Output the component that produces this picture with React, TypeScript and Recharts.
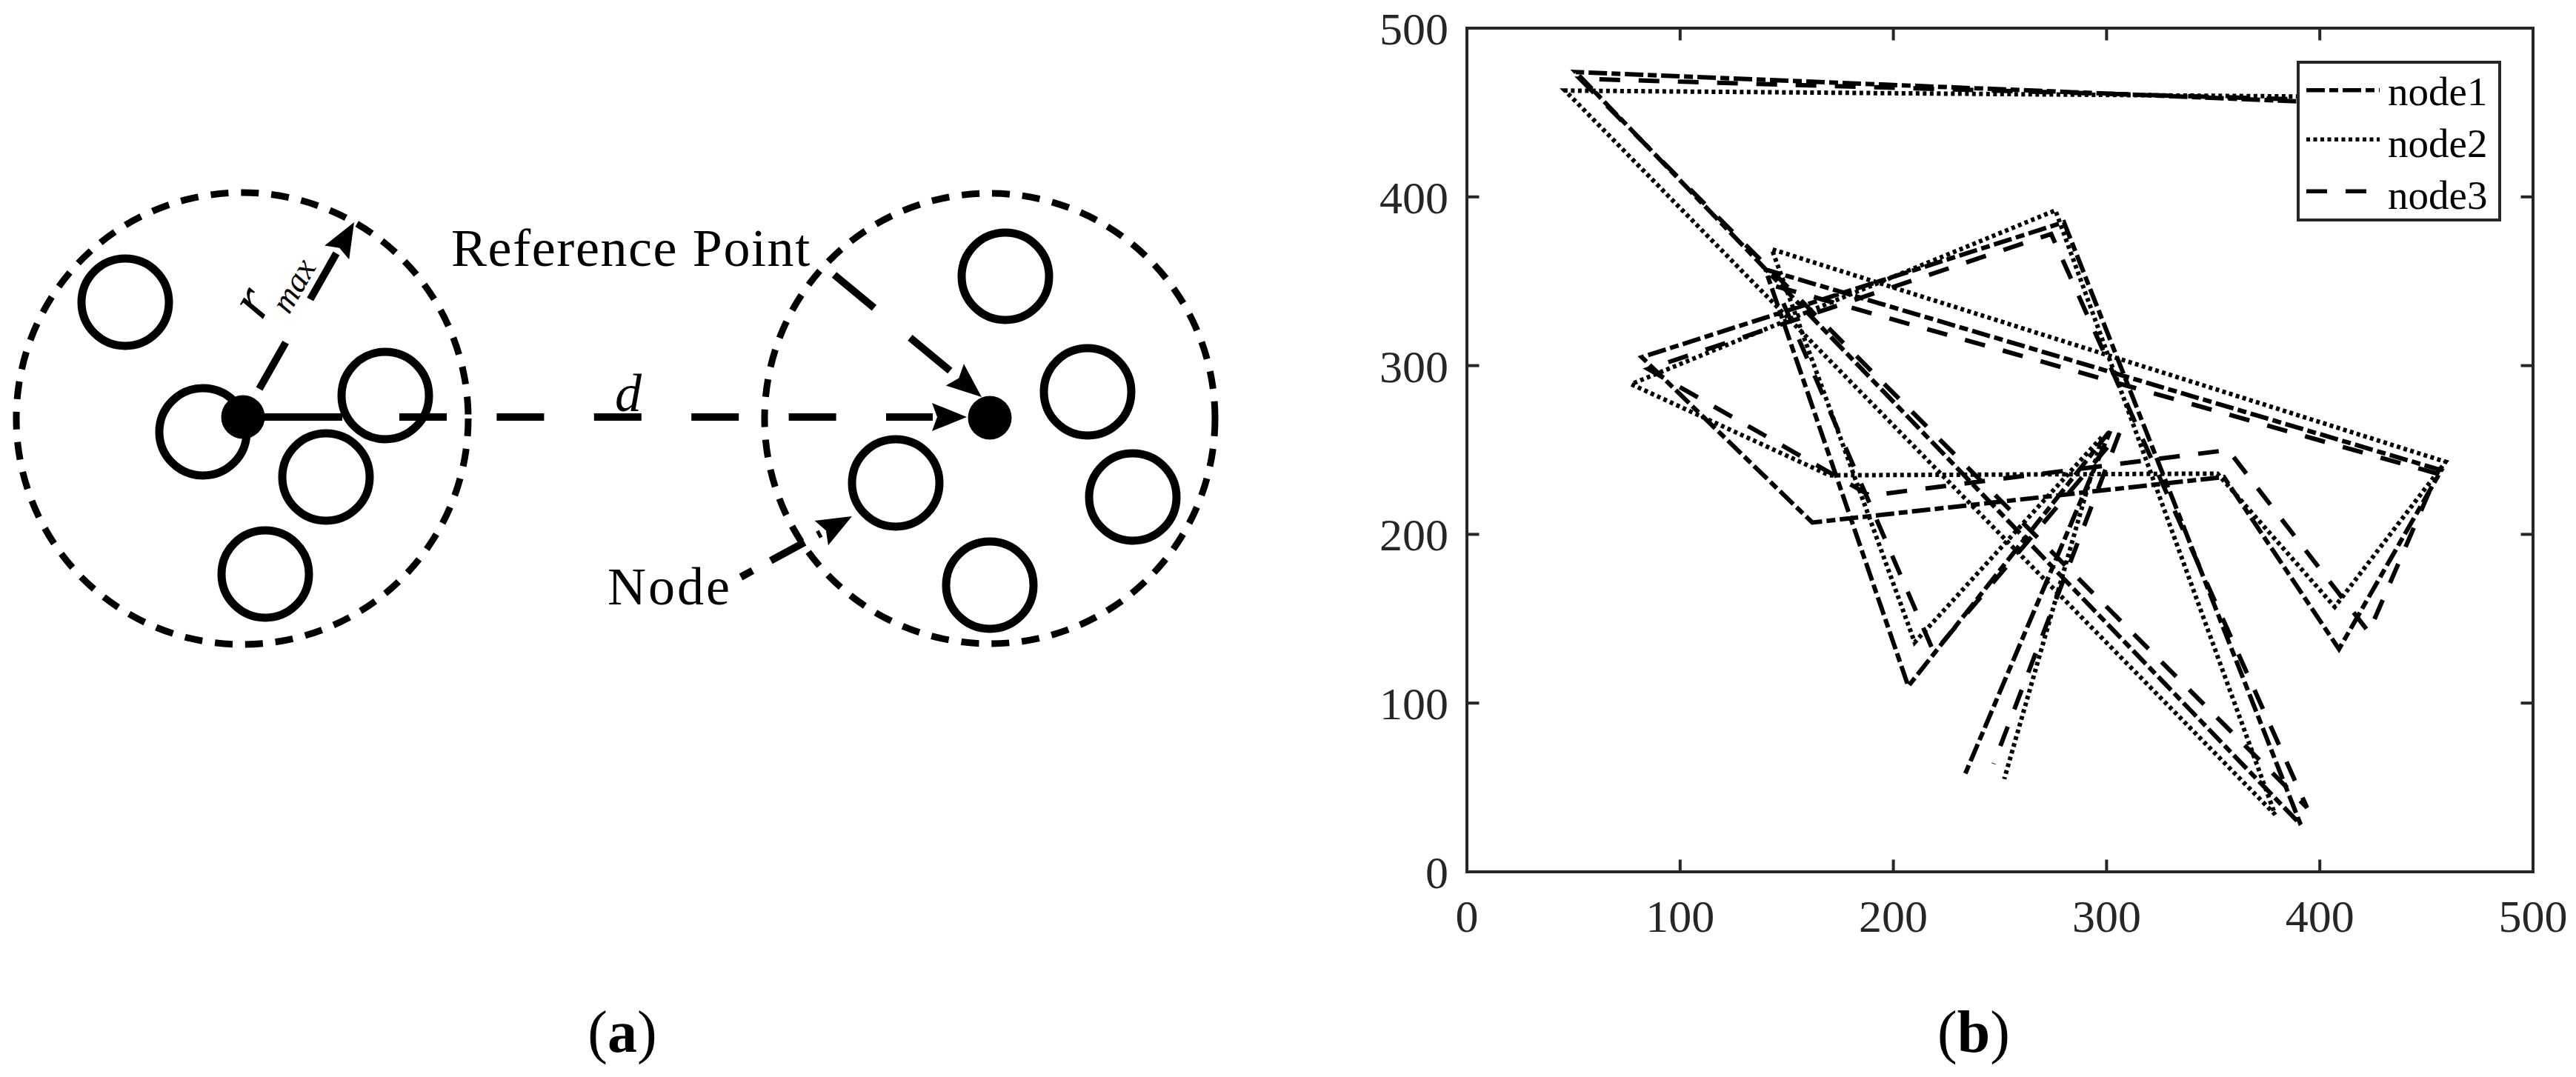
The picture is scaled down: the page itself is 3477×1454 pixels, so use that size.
import React from 'react';
import { ComposedChart, LineChart, Line, Scatter, XAxis, YAxis, Legend } from 'recharts';

const FONT = "'Liberation Serif', 'Times New Roman', Times, serif";
const AXIS_COLOR = '#262626';

// ---------------- Panel (b): node trajectories ----------------
const axisTicks = [0, 100, 200, 300, 400, 500];

const node1 = [
  { x: 440, y: 454 }, { x: 51, y: 474 }, { x: 391, y: 28 }, { x: 280, y: 385 }, { x: 82, y: 305 },
  { x: 162, y: 207 }, { x: 355, y: 234 }, { x: 409, y: 132 }, { x: 457, y: 238 }, { x: 140, y: 357 },
  { x: 207, y: 110 }, { x: 302, y: 262 }, { x: 233, y: 56 },
];
const node2 = [
  { x: 440, y: 459 }, { x: 46, y: 463 }, { x: 379, y: 34 }, { x: 276, y: 392 }, { x: 77, y: 289 },
  { x: 170, y: 235 }, { x: 352, y: 236 }, { x: 407, y: 157 }, { x: 459, y: 243 }, { x: 143, y: 369 },
  { x: 210, y: 136 }, { x: 298, y: 258 }, { x: 252, y: 55 },
];
const node3 = [
  { x: 440, y: 456 }, { x: 53, y: 470 }, { x: 394, y: 38 }, { x: 274, y: 378 }, { x: 85, y: 298 },
  { x: 189, y: 223 }, { x: 357, y: 250 }, { x: 423, y: 142 }, { x: 455, y: 236 }, { x: 145, y: 347 },
  { x: 219, y: 130 }, { x: 306, y: 260 }, { x: 247, y: 64 },
];

const seriesNames = ['node1', 'node2', 'node3'];
const seriesData = [node1, node2, node3];
const seriesDash = ['25 6 12 6', '5 4.5', '28 25'];

// ---------------- Panel (a): diagram (coordinates in diagram units, y downward) ----------------
const clusterRings = [
  { x: 327, y: 565, r: 305 },
  { x: 1336, y: 565, r: 304 },
];
const memberNodes = [
  { x: 169, y: 408 }, { x: 274, y: 583 }, { x: 520, y: 534 }, { x: 440, y: 644 }, { x: 358, y: 775 },
  { x: 1357, y: 373 }, { x: 1468, y: 529 }, { x: 1529, y: 671 }, { x: 1209, y: 652 }, { x: 1336, y: 790 },
];
const referencePoints = [
  { x: 328, y: 563 },
  { x: 1336, y: 564 },
];
const dLineFirst = [{ x: 345, y: 563 }, { x: 462, y: 563 }];
const dLineRest = [{ x: 539, y: 563 }, { x: 1259, y: 563 }];
const rmaxLine = [{ x: 350, y: 525 }, { x: 454, y: 342 }];
const refArrowLine = [{ x: 1126, y: 371 }, { x: 1289, y: 506 }];
const nodeArrowLine = [{ x: 1000, y: 779 }, { x: 1108, y: 720 }];
const arrowHeads = [
  { x: 1305, y: 563, angle: 0 },
  { x: 478, y: 300, angle: -60.3 },
  { x: 1325, y: 536, angle: 39.7 },
  { x: 1150, y: 697, angle: -28.7 },
];
const refLabel = [{ x: 609, y: 359, text: 'Reference Point' }];
const nodeLabel = [{ x: 820, y: 816, text: 'Node' }];
const dLabel = [{ x: 830, y: 555, text: 'd' }];
const rLabel = [{ x: 361, y: 420, text: 'r' }];
const maxLabel = [{ x: 409, y: 393, text: 'max' }];

const Ring = (p: any) => (
  <circle cx={p.cx} cy={p.cy} r={p.payload.r} fill="none" stroke="#000" strokeWidth={9} strokeDasharray="24 17" />
);
const MemberCircle = (p: any) => (
  <circle cx={p.cx} cy={p.cy} r={59} fill="none" stroke="#000" strokeWidth={11} />
);
const RefDot = (p: any) => <circle cx={p.cx} cy={p.cy} r={29.5} fill="#000" />;
const ArrowHead = (p: any) => {
  const L = 47, W = 19, N = 7;
  return (
    <polygon
      points={`0,0 ${-L},${-W} ${-L + N},0 ${-L},${W}`}
      transform={`translate(${p.cx},${p.cy}) rotate(${p.payload.angle})`}
      fill="#000"
    />
  );
};
const RefText = (p: any) => (
  <text x={p.cx} y={p.cy} fontFamily={FONT} fontSize={72} letterSpacing={1.6} fill="#000">{p.payload.text}</text>
);
const NodeText = (p: any) => (
  <text x={p.cx} y={p.cy} fontFamily={FONT} fontSize={72} letterSpacing={3} fill="#000">{p.payload.text}</text>
);
const DText = (p: any) => (
  <text x={p.cx} y={p.cy} fontFamily={FONT} fontSize={72} fontStyle="italic" fill="#000">{p.payload.text}</text>
);
const RText = (p: any) => (
  <text x={p.cx} y={p.cy} fontFamily={FONT} fontSize={80} fontStyle="italic" textAnchor="middle" fill="#000"
    transform={`rotate(-60 ${p.cx} ${p.cy})`}>{p.payload.text}</text>
);
const MaxText = (p: any) => (
  <text x={p.cx} y={p.cy} fontFamily={FONT} fontSize={45} fontStyle="italic" textAnchor="middle" fill="#000"
    transform={`rotate(-60 ${p.cx} ${p.cy})`}>{p.payload.text}</text>
);

// ---------------- Axis ticks (MATLAB style: ticks pointing inwards) ----------------
const TICK_LEN = 16.5;
const TICK_W = 4;
const BottomTick = (p: any) => (
  <g>
    <line x1={p.x} y1={p.y} x2={p.x} y2={p.y - TICK_LEN} stroke={AXIS_COLOR} strokeWidth={TICK_W} />
    <text x={p.x} y={p.y + 81} textAnchor="middle" fontFamily={FONT} fontSize={62} fill={AXIS_COLOR}>{p.payload.value}</text>
  </g>
);
const LeftTick = (p: any) => (
  <g>
    <line x1={p.x} y1={p.y} x2={p.x + TICK_LEN} y2={p.y} stroke={AXIS_COLOR} strokeWidth={TICK_W} />
    <text x={p.x - 25} y={p.y + 22} textAnchor="end" fontFamily={FONT} fontSize={62} fill={AXIS_COLOR}>{p.payload.value}</text>
  </g>
);
const TopTick = (p: any) => (
  <line x1={p.x} y1={p.y} x2={p.x} y2={p.y + TICK_LEN} stroke={AXIS_COLOR} strokeWidth={TICK_W} />
);
const RightTick = (p: any) => (
  <line x1={p.x} y1={p.y} x2={p.x - TICK_LEN} y2={p.y} stroke={AXIS_COLOR} strokeWidth={TICK_W} />
);

function LegendBox() {
  const lineY = [39.7, 106.3, 176.3];
  const textY = [59.7, 129.7, 199.7];
  return (
    <svg width={276} height={217} style={{ display: 'block' }}>
      <rect x={2} y={2} width={272} height={213} fill="#fff" stroke={AXIS_COLOR} strokeWidth={4} />
      {seriesNames.map((name, i) => (
        <g key={name}>
          <line x1={13} y1={lineY[i]} x2={112} y2={lineY[i]} stroke="#000" strokeWidth={5.5} strokeDasharray={seriesDash[i]} />
          <text x={123} y={textY[i]} fontFamily={FONT} fontSize={55} fill="#000">{name}</text>
        </g>
      ))}
    </svg>
  );
}

const axisLineStyle = { stroke: AXIS_COLOR, strokeWidth: 4, strokeLinecap: 'square' as const };

export default function App() {
  return (
    <div style={{ position: 'absolute', left: 0, top: 0, width: 3477, height: 1454, background: '#fff', overflow: 'hidden' }}>
      {/* Panel (a) */}
      <div style={{ position: 'absolute', left: 0, top: 0 }}>
        <ComposedChart width={1850} height={1454} margin={{ top: 0, right: 0, bottom: 0, left: 0 }}>
          <XAxis hide type="number" dataKey="x" domain={[0, 1850]} />
          <YAxis hide type="number" dataKey="y" domain={[0, 1454]} reversed />
          <Scatter data={clusterRings} shape={Ring} isAnimationActive={false} />
          <Scatter data={memberNodes} shape={MemberCircle} isAnimationActive={false} />
          <Line data={dLineFirst} dataKey="y" stroke="#000" strokeWidth={10} dot={false} isAnimationActive={false} />
          <Line data={dLineRest} dataKey="y" stroke="#000" strokeWidth={10} strokeDasharray="64 67.4" dot={false} isAnimationActive={false} />
          <Line data={rmaxLine} dataKey="y" stroke="#000" strokeWidth={10} strokeDasharray="72 67" dot={false} isAnimationActive={false} />
          <Line data={refArrowLine} dataKey="y" stroke="#000" strokeWidth={10} strokeDasharray="70 63" dot={false} isAnimationActive={false} />
          <Line data={nodeArrowLine} dataKey="y" stroke="#000" strokeWidth={10} strokeDasharray="18 28 52 20" dot={false} isAnimationActive={false} />
          <Scatter data={referencePoints} shape={RefDot} isAnimationActive={false} />
          <Scatter data={arrowHeads} shape={ArrowHead} isAnimationActive={false} />
          <Scatter data={refLabel} shape={RefText} isAnimationActive={false} />
          <Scatter data={nodeLabel} shape={NodeText} isAnimationActive={false} />
          <Scatter data={dLabel} shape={DText} isAnimationActive={false} />
          <Scatter data={rLabel} shape={RText} isAnimationActive={false} />
          <Scatter data={maxLabel} shape={MaxText} isAnimationActive={false} />
        </ComposedChart>
      </div>

      {/* Panel (b) */}
      <div style={{ position: 'absolute', left: 1850, top: 0 }}>
        <LineChart width={1627} height={1454} margin={{ top: 37, right: 57, bottom: 197, left: 0 }}>
          <XAxis xAxisId="b" type="number" dataKey="x" domain={[0, 500]} ticks={axisTicks} interval={0}
            orientation="bottom" height={80} tickSize={0} tickMargin={0}
            axisLine={axisLineStyle} tickLine={false} tick={BottomTick} allowDataOverflow />
          <XAxis xAxisId="t" type="number" dataKey="x" domain={[0, 500]} ticks={axisTicks} interval={0}
            orientation="top" height={1} tickSize={0} tickMargin={0}
            axisLine={axisLineStyle} tickLine={false} tick={TopTick} allowDataOverflow />
          <YAxis yAxisId="l" type="number" dataKey="y" domain={[0, 500]} ticks={axisTicks} interval={0}
            orientation="left" width={130} tickSize={0} tickMargin={0}
            axisLine={axisLineStyle} tickLine={false} tick={LeftTick} allowDataOverflow />
          <YAxis yAxisId="r" type="number" dataKey="y" domain={[0, 500]} ticks={axisTicks} interval={0}
            orientation="right" width={1} tickSize={0} tickMargin={0}
            axisLine={axisLineStyle} tickLine={false} tick={RightTick} allowDataOverflow />
          {seriesData.map((d, i) => (
            <Line key={seriesNames[i]} name={seriesNames[i]} xAxisId="b" yAxisId="l" data={d} dataKey="y"
              type="linear" stroke="#000" strokeWidth={6} strokeDasharray={seriesDash[i]}
              dot={false} activeDot={false} isAnimationActive={false} />
          ))}
          <Legend content={<LegendBox />} layout="horizontal" verticalAlign="middle" align="center"
            wrapperStyle={{ left: 1250, top: 82, width: 276, height: 217 }} />
        </LineChart>
      </div>

      {/* Sub-figure captions */}
      <svg width={3477} height={154} style={{ position: 'absolute', left: 0, top: 1300 }}>
        <text x={840} y={120} textAnchor="middle" fontFamily={FONT} fontSize={80} fill="#000">
          (<tspan fontWeight="bold">a</tspan>)
        </text>
        <text x={2664} y={120} textAnchor="middle" fontFamily={FONT} fontSize={80} fill="#000">
          (<tspan fontWeight="bold">b</tspan>)
        </text>
      </svg>
    </div>
  );
}
